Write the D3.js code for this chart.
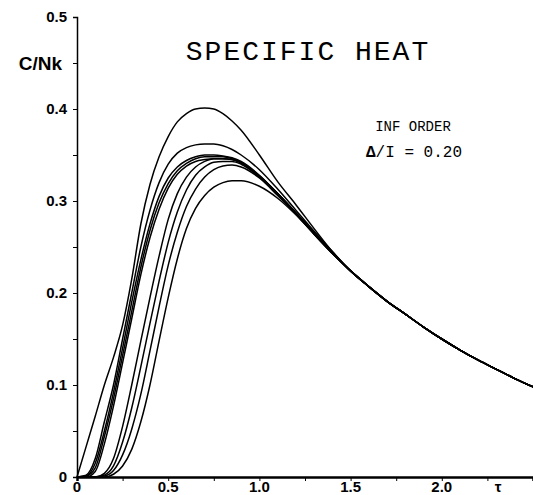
<!DOCTYPE html>
<html lang="en">
<head>
  <meta charset="UTF-8">
  <title>Specific heat</title>
  <script src="https://cdn.jsdelivr.net/npm/d3@7"></script>
  <style>
    body { margin: 0; background: #fff; }
    .tick-label { font-family: "Liberation Sans", Arial, sans-serif; font-weight: bold; font-size: 15px; }
    .plotter { font-family: "Liberation Mono", "DejaVu Sans Mono", monospace; }
  </style>
</head>
<body>
<script>
  // temperature grid (tau) for the low part of each curve
  const tauLow = [0, 0.05, 0.1, 0.15, 0.2, 0.25, 0.3, 0.35, 0.4, 0.45, 0.5, 0.55, 0.6, 0.65,
                  0.7, 0.75, 0.8, 0.85, 0.9, 1.0, 1.1, 1.2, 1.3, 1.4];

  // C/Nk, one list per curve
  const curveA = [0, 0.033, 0.066, 0.1, 0.13, 0.165, 0.215, 0.275, 0.318, 0.348, 0.37, 0.386, 0.395, 0.4,
                  0.401, 0.4, 0.395, 0.387, 0.377, 0.35, 0.321, 0.296, 0.27, 0.245];
  const curveB = [0, 0.002, 0.02, 0.06, 0.1, 0.15, 0.2, 0.25, 0.29, 0.32, 0.34, 0.352, 0.358, 0.361,
                  0.362, 0.362, 0.36, 0.356, 0.35, 0.334, 0.313, 0.29, 0.267, 0.245];
  const curveC1 = [0, 0.001, 0.015, 0.05, 0.092, 0.14, 0.19, 0.236, 0.275, 0.305, 0.325, 0.337, 0.344, 0.348,
                   0.35, 0.35, 0.349, 0.347, 0.343, 0.328, 0.308, 0.287, 0.265, 0.244];
  const curveC2 = [0, 0.001, 0.01, 0.044, 0.085, 0.132, 0.18, 0.228, 0.268, 0.298, 0.319, 0.333, 0.341, 0.346,
                   0.348, 0.348, 0.348, 0.346, 0.342, 0.327, 0.308, 0.287, 0.265, 0.244];
  const curveC3 = [0, 0, 0.006, 0.036, 0.077, 0.124, 0.172, 0.22, 0.26, 0.291, 0.314, 0.329, 0.338, 0.343,
                   0.345, 0.346, 0.346, 0.345, 0.341, 0.327, 0.308, 0.287, 0.265, 0.244];
  const curveC4 = [0, 0, 0, 0.004, 0.02, 0.055, 0.1, 0.148, 0.195, 0.24, 0.28, 0.308, 0.326, 0.337,
                   0.343, 0.346, 0.346, 0.345, 0.342, 0.327, 0.308, 0.287, 0.265, 0.244];
  const curveC5 = [0, 0, 0, 0.002, 0.012, 0.038, 0.075, 0.12, 0.167, 0.213, 0.255, 0.288, 0.312, 0.328,
                   0.337, 0.342, 0.343, 0.343, 0.34, 0.326, 0.307, 0.286, 0.264, 0.243];
  const curveD = [0, 0, 0, 0.001, 0.007, 0.024, 0.052, 0.09, 0.137, 0.185, 0.23, 0.266, 0.294, 0.313,
                  0.326, 0.334, 0.338, 0.339, 0.337, 0.325, 0.306, 0.286, 0.264, 0.243];
  const curveE = [0, 0, 0, 0, 0.003, 0.012, 0.03, 0.06, 0.1, 0.148, 0.195, 0.237, 0.27, 0.292,
                  0.306, 0.315, 0.32, 0.322, 0.322, 0.316, 0.303, 0.285, 0.264, 0.243];

  // all curves merge above tau = 1.5
  const tauTail = [1.5, 1.6, 1.7, 1.8, 1.9, 2.0, 2.1, 2.2, 2.3, 2.4, 2.5];
  const tailValues = [0.224, 0.207, 0.191, 0.177, 0.163, 0.15, 0.138, 0.127, 0.117, 0.107, 0.098];

  const curves = [curveA, curveB, curveC1, curveC2, curveC3, curveC4, curveC5, curveD, curveE];

  const yTicks = [0, 0.1, 0.2, 0.3, 0.4, 0.5];
  const xTicks = [0, 0.5, 1.0, 1.5, 2.0];

  const w = 533, h = 495;

  const x = d3.scaleLinear().domain([0, 2.5]).range([77, 533]);
  const y = d3.scaleLinear().domain([0, 0.5]).range([477, 17]);

  const svg = d3.select("body").append("svg")
    .attr("width", w)
    .attr("height", h);

  const line = d3.line()
    .x(d => x(d[0]))
    .y(d => y(d[1]))
    .curve(d3.curveMonotoneX);

  const tail = tauTail.map((t, i) => [t, tailValues[i]]);

  svg.append("g")
    .selectAll("path")
    .data(curves)
    .enter()
    .append("path")
    .attr("d", c => line(tauLow.map((t, i) => [t, c[i]]).concat(tail)))
    .attr("fill", "none")
    .attr("stroke", "#000")
    .attr("stroke-width", 1.5);

  // y axis, minor ticks every 0.05
  const yAxis = d3.axisLeft(y)
    .tickValues(d3.range(0, 0.501, 0.05))
    .tickSize(4)
    .tickFormat("");
  const gy = svg.append("g")
    .attr("transform", "translate(" + x(0) + ",0)")
    .call(yAxis);
  gy.select(".domain").attr("stroke-width", 1.5);

  svg.selectAll(".ylab")
    .data(yTicks)
    .enter()
    .append("text")
    .attr("class", "tick-label")
    .attr("x", 67)
    .attr("y", d => y(d))
    .attr("dy", "0.35em")
    .attr("text-anchor", "end")
    .text(d => d === 0 ? "0" : d.toFixed(1));

  // x axis, ticks every 0.25
  const xAxis = d3.axisBottom(x)
    .tickValues(d3.range(0, 2.501, 0.25))
    .tickSize(4)
    .tickFormat("");
  const gx = svg.append("g")
    .attr("transform", "translate(0," + y(0) + ")")
    .call(xAxis);
  gx.select(".domain").attr("stroke-width", 2.5);

  svg.selectAll(".xlab")
    .data(xTicks)
    .enter()
    .append("text")
    .attr("class", "tick-label")
    .attr("x", d => x(d))
    .attr("y", 492)
    .attr("text-anchor", "middle")
    .text(d => d === 0 ? "0" : d.toFixed(1));

  svg.append("text")
    .attr("class", "tick-label")
    .attr("x", 498)
    .attr("y", 492)
    .attr("text-anchor", "middle")
    .attr("font-family", "DejaVu Serif")
    .text("τ");

  svg.append("text")
    .attr("class", "tick-label")
    .attr("x", 62)
    .attr("y", y(0.45))
    .attr("dy", "0.35em")
    .attr("text-anchor", "end")
    .style("font-size", "19px")
    .text("C/Nk");

  svg.append("text")
    .attr("class", "plotter")
    .attr("x", 308)
    .attr("y", 60)
    .attr("text-anchor", "middle")
    .style("font-size", "28px")
    .style("letter-spacing", "2px")
    .text("SPECIFIC HEAT");

  svg.append("text")
    .attr("class", "plotter")
    .attr("x", 413)
    .attr("y", 131)
    .attr("text-anchor", "middle")
    .style("font-size", "14px")
    .text("INF ORDER");

  svg.append("text")
    .attr("class", "plotter")
    .attr("x", 414)
    .attr("y", 157)
    .attr("text-anchor", "middle")
    .style("font-size", "16px")
    .html('<tspan font-weight="bold">Δ</tspan>/I = 0.20');
</script>
</body>
</html>
